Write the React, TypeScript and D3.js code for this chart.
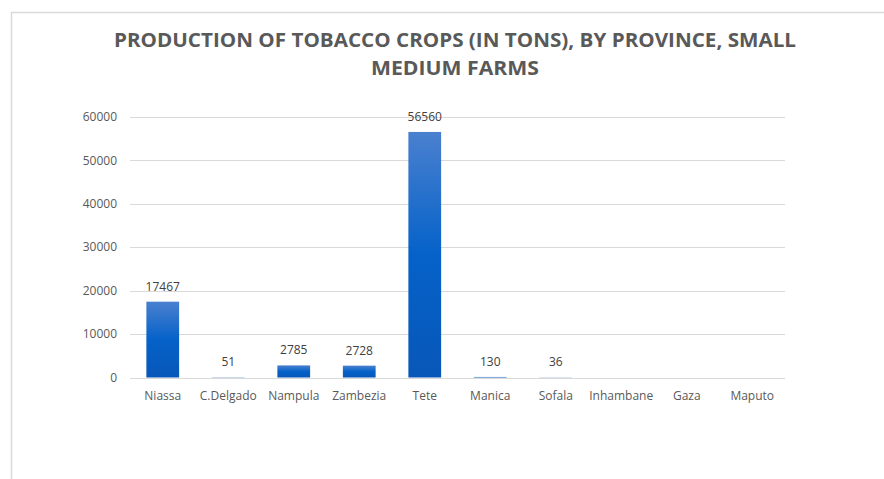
import React, { useEffect, useRef } from "react";
import * as d3 from "d3";

const provinces = ["Niassa", "C.Delgado", "Nampula", "Zambezia", "Tete", "Manica", "Sofala", "Inhambane", "Gaza", "Maputo"];
const production = [17467, 51, 2785, 2728, 56560, 130, 36, 0, 0, 0];
const showLabel = [true, true, true, true, true, true, true, false, false, false];
const yTicks = [0, 10000, 20000, 30000, 40000, 50000, 60000];
const titleLines = ["PRODUCTION OF TOBACCO CROPS (IN TONS), BY PROVINCE, SMALL", "MEDIUM FARMS"];

const W = 884, H = 479;

const App = () => {
    const container = useRef<SVGSVGElement>(null);

    useEffect(() => {
        const svg = d3.select(container.current);
        svg.selectAll("*").remove();

        const margin = { top: 117, right: 99, bottom: 101.5, left: 130 };
        const width = W - margin.left - margin.right;
        const height = H - margin.top - margin.bottom;

        // frame of the chart area
        svg.append("line").attr("x1", 11).attr("x2", W).attr("y1", 12.5).attr("y2", 12.5)
            .attr("stroke", "#d9d9d9").attr("stroke-width", 1.5);
        svg.append("line").attr("x1", 11.5).attr("x2", 11.5).attr("y1", 12).attr("y2", H)
            .attr("stroke", "#d9d9d9").attr("stroke-width", 1.5);

        const defs = svg.append("defs");
        const grad = defs.append("linearGradient").attr("id", "barGrad")
            .attr("x1", 0).attr("y1", 0).attr("x2", 0).attr("y2", 1);
        grad.append("stop").attr("offset", "0%").attr("stop-color", "#4a80cf");
        grad.append("stop").attr("offset", "50%").attr("stop-color", "#0562c9");
        grad.append("stop").attr("offset", "100%").attr("stop-color", "#0857b8");

        svg.append("g").selectAll("text")
            .data(titleLines)
            .enter()
            .append("text")
            .attr("x", 455)
            .attr("y", (d, i) => 47 + i * 28)
            .attr("text-anchor", "middle")
            .attr("font-family", "'Open Sans', sans-serif")
            .attr("font-weight", "bold")
            .attr("font-size", 20)
            .attr("fill", "#595959")
            .attr("textLength", (d, i) => (i === 0 ? 682 : 168))
            .attr("lengthAdjust", "spacingAndGlyphs")
            .text(d => d);

        const g = svg.append("g").attr("transform", `translate(${margin.left},${margin.top})`);

        const x = d3.scaleBand().domain(provinces).range([0, width]).paddingInner(0.5).paddingOuter(0.25);
        const y = d3.scaleLinear().domain([0, 60000]).range([height, 0]);

        g.selectAll(".grid")
            .data(yTicks)
            .enter()
            .append("line")
            .attr("x1", 0).attr("x2", width)
            .attr("y1", d => Math.round(y(d)) + 0.5).attr("y2", d => Math.round(y(d)) + 0.5)
            .attr("stroke", "#d9d9d9").attr("stroke-width", 1.2);

        g.selectAll(".ytick")
            .data(yTicks)
            .enter()
            .append("text")
            .attr("x", -13)
            .attr("y", d => y(d))
            .attr("dy", "0.35em")
            .attr("text-anchor", "end")
            .attr("font-family", "'Open Sans', sans-serif")
            .attr("font-size", 12)
            .attr("fill", "#595959")
            .text(d => d);

        g.selectAll(".bar")
            .data(production)
            .enter()
            .append("rect")
            .attr("x", (d, i) => x(provinces[i]))
            .attr("y", d => y(d))
            .attr("width", x.bandwidth())
            .attr("height", d => height - y(d))
            .attr("fill", "url(#barGrad)");

        g.selectAll(".val")
            .data(provinces.map((p, i) => ({ p, v: production[i], show: showLabel[i] })).filter(d => d.show))
            .enter()
            .append("text")
            .attr("x", d => x(d.p)! + x.bandwidth() / 2)
            .attr("y", d => y(d.v) - 11)
            .attr("text-anchor", "middle")
            .attr("font-family", "'Open Sans', sans-serif")
            .attr("font-size", 12)
            .attr("fill", "#404040")
            .text(d => d.v);

        g.selectAll(".xlab")
            .data(provinces)
            .enter()
            .append("text")
            .attr("x", d => x(d)! + x.bandwidth() / 2)
            .attr("y", height + 22)
            .attr("text-anchor", "middle")
            .attr("font-family", "'Open Sans', sans-serif")
            .attr("font-size", 12)
            .attr("fill", "#595959")
            .text(d => d);
    }, []);

    return (
        <div style={{ position: "absolute", left: 0, top: 0 }}>
            <svg ref={container} width={W} height={H} style={{ display: "block", background: "#fff" }}></svg>
        </div>
    );
};

export default App;
